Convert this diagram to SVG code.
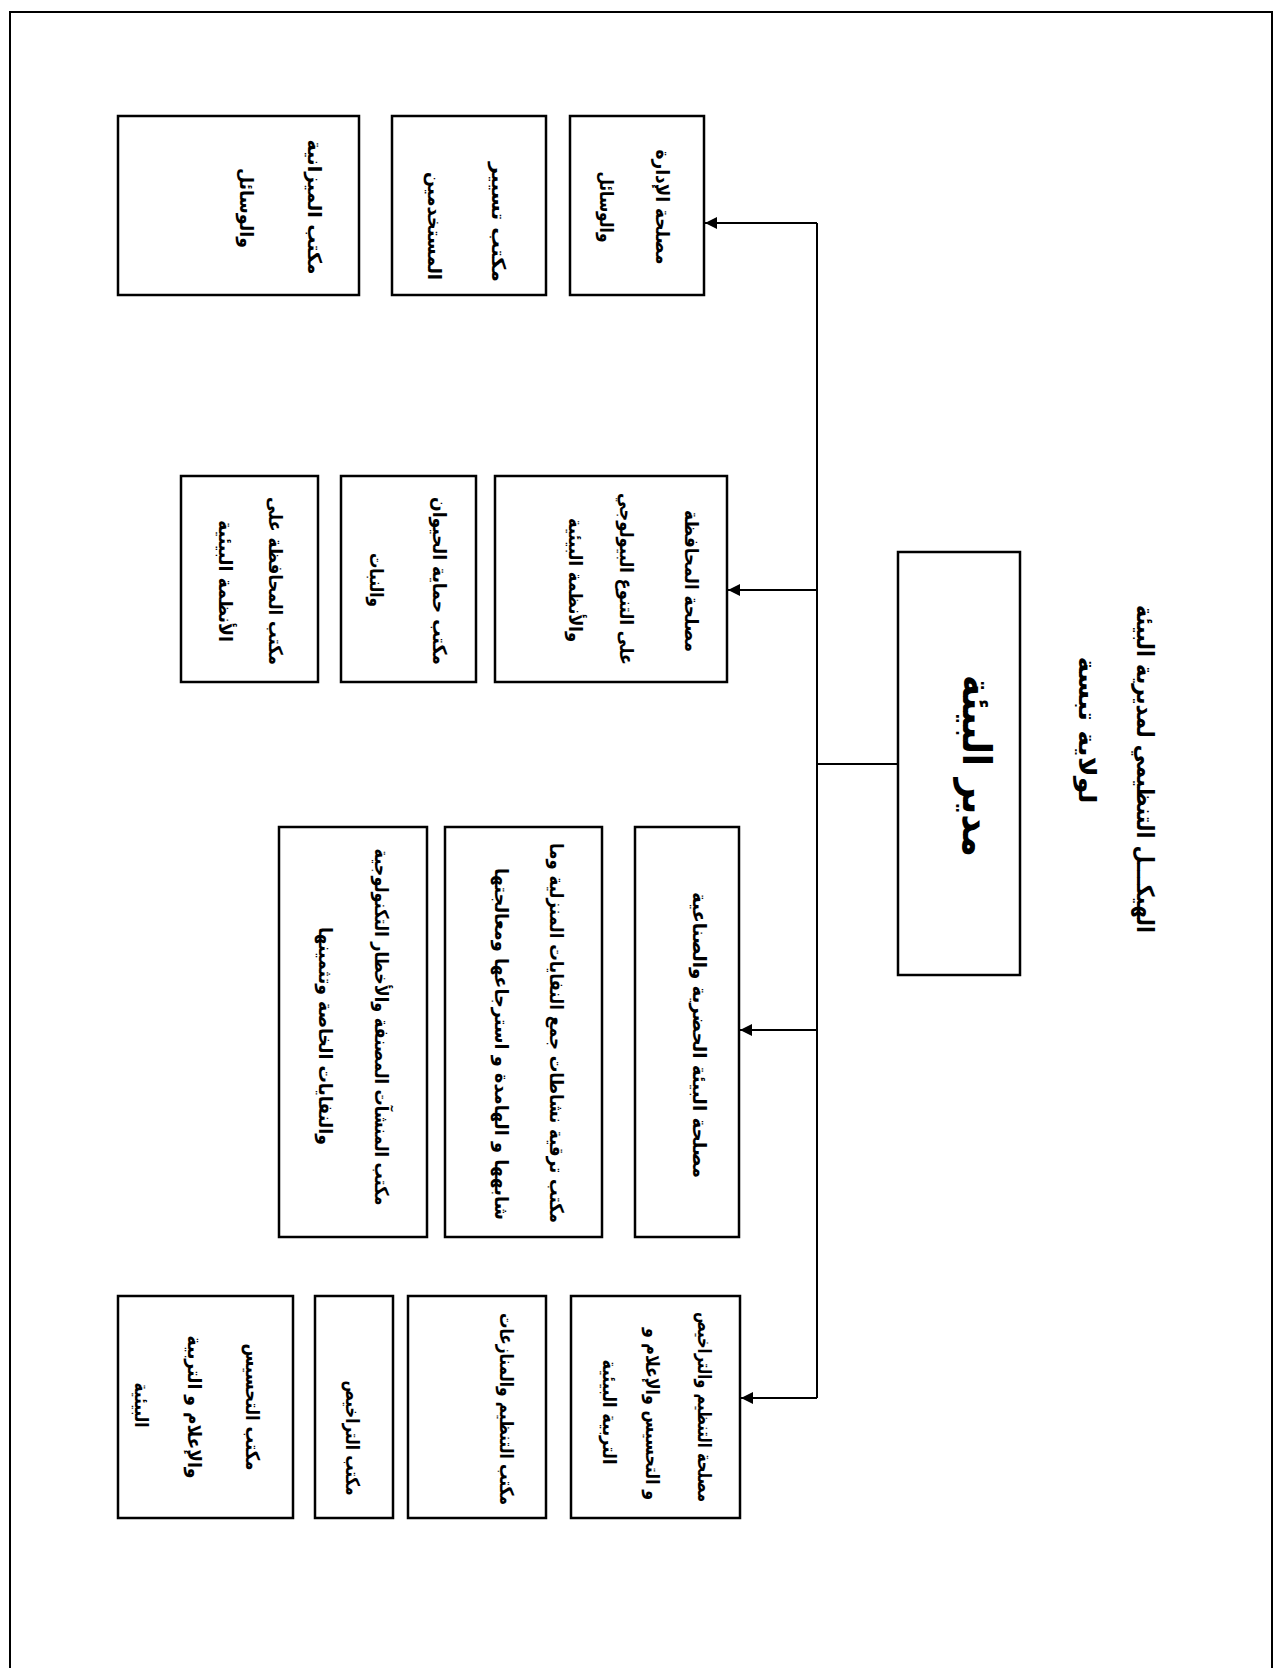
<svg xmlns="http://www.w3.org/2000/svg" width="1283" height="1668" viewBox="0 0 1283 1668">
<style>
.box{fill:#fff;stroke:#000;stroke-width:2.5}
.ln{fill:none;stroke:#000;stroke-width:2}
.t{font-family:"DejaVu Sans",sans-serif;font-weight:bold;font-size:19px;text-anchor:middle;dominant-baseline:central;fill:#000}
.ttl{font-size:24px}
.big{font-size:40px}
</style>
<defs>
<marker id="ah" viewBox="0 0 10 10" refX="10" refY="5" markerWidth="6" markerHeight="6" orient="auto" markerUnits="strokeWidth">
<path d="M0,0 L10,5 L0,10 z" fill="#000"/>
</marker>
</defs>
<rect width="1283" height="1668" fill="#fff"/>
<path class="ln" d="M10,1668 V12 H1272 V1668"/>

<g id="title">
<text class="t ttl" x="1145" y="769" transform="rotate(90 1145 769)" textLength="328" lengthAdjust="spacingAndGlyphs">الهيكـــل التنظيمي لمديرية البيئة</text>
<text class="t ttl" x="1087" y="730" transform="rotate(90 1087 730)" textLength="147" lengthAdjust="spacingAndGlyphs">لولاية تبسة</text>
</g>

<g id="director">
<rect class="box" x="898" y="552" width="122" height="423"/>
<text class="t big" x="977" y="766" transform="rotate(90 977 766)" textLength="182" lengthAdjust="spacingAndGlyphs">مدير البيئة</text>
</g>

<g id="connectors">
<path class="ln" d="M817,223 V1398"/>
<path class="ln" d="M899,764 H817"/>
<path class="ln" d="M817,223 H705" marker-end="url(#ah)"/>
<path class="ln" d="M817,590 H728" marker-end="url(#ah)"/>
<path class="ln" d="M817,1030 H740" marker-end="url(#ah)"/>
<path class="ln" d="M817,1398 H741" marker-end="url(#ah)"/>
</g>

<g id="a1">
<rect class="box" x="570" y="116" width="134" height="179"/>
<text class="t" x="663" y="207" transform="rotate(90 663 207)" textLength="115" lengthAdjust="spacingAndGlyphs">مصلحة الإدارة</text>
<text class="t" x="607" y="207" transform="rotate(90 607 207)" textLength="71" lengthAdjust="spacingAndGlyphs">والوسائل</text>
</g>
<g id="a2">
<rect class="box" x="392" y="116" width="154" height="179"/>
<text class="t" x="499" y="222" transform="rotate(90 499 222)" textLength="120" lengthAdjust="spacingAndGlyphs">مكتب تسيير</text>
<text class="t" x="435" y="226" transform="rotate(90 435 226)" textLength="108" lengthAdjust="spacingAndGlyphs">المستخدمين</text>
</g>
<g id="a3">
<rect class="box" x="118" y="116" width="241" height="179"/>
<text class="t" x="315" y="207" transform="rotate(90 315 207)" textLength="135" lengthAdjust="spacingAndGlyphs">مكتب الميزانية</text>
<text class="t" x="247" y="208" transform="rotate(90 247 208)" textLength="80" lengthAdjust="spacingAndGlyphs">والوسائل</text>
</g>

<g id="b1">
<rect class="box" x="495" y="476" width="232" height="206"/>
<text class="t" x="692" y="581" transform="rotate(90 692 581)" textLength="142" lengthAdjust="spacingAndGlyphs">مصلحة المحافظة</text>
<text class="t" x="627" y="579" transform="rotate(90 627 579)" textLength="172" lengthAdjust="spacingAndGlyphs">على التنوع البيولوجي</text>
<text class="t" x="576" y="580" transform="rotate(90 576 580)" textLength="124" lengthAdjust="spacingAndGlyphs">والأنظمة البيئية</text>
</g>
<g id="b2">
<rect class="box" x="341" y="476" width="135" height="206"/>
<text class="t" x="440" y="581" transform="rotate(90 440 581)" textLength="168" lengthAdjust="spacingAndGlyphs">مكتب حماية الحيوان</text>
<text class="t" x="377" y="580" transform="rotate(90 377 580)" textLength="54" lengthAdjust="spacingAndGlyphs">والنبات</text>
</g>
<g id="b3">
<rect class="box" x="181" y="476" width="137" height="206"/>
<text class="t" x="276" y="581" transform="rotate(90 276 581)" textLength="168" lengthAdjust="spacingAndGlyphs">مكتب المحافظة على</text>
<text class="t" x="226" y="581" transform="rotate(90 226 581)" textLength="122" lengthAdjust="spacingAndGlyphs">الأنظمة البيئية</text>
</g>

<g id="c1">
<rect class="box" x="635" y="827" width="104" height="410"/>
<text class="t" x="700" y="1035" transform="rotate(90 700 1035)" textLength="286" lengthAdjust="spacingAndGlyphs">مصلحة البيئة الحضرية والصناعية</text>
</g>
<g id="c2">
<rect class="box" x="445" y="827" width="157" height="410"/>
<text class="t" x="557" y="1033" transform="rotate(90 557 1033)" textLength="380" lengthAdjust="spacingAndGlyphs">مكتب ترقية نشاطات جمع النفايات المنزلية وما</text>
<text class="t" x="502" y="1044" transform="rotate(90 502 1044)" textLength="352" lengthAdjust="spacingAndGlyphs">شابهها و الهامدة و استرجاعها ومعالجتها</text>
</g>
<g id="c3">
<rect class="box" x="279" y="827" width="148" height="410"/>
<text class="t" x="382" y="1027" transform="rotate(90 382 1027)" textLength="357" lengthAdjust="spacingAndGlyphs">مكتب المنشآت المصنفة والأخطار التكنولوجية</text>
<text class="t" x="326" y="1036" transform="rotate(90 326 1036)" textLength="218" lengthAdjust="spacingAndGlyphs">والنفايات الخاصة وتثمينها</text>
</g>

<g id="d1">
<rect class="box" x="571" y="1296" width="169" height="222"/>
<text class="t" x="705" y="1407" transform="rotate(90 705 1407)" textLength="190" lengthAdjust="spacingAndGlyphs">مصلحة التنظيم والتراخيص</text>
<text class="t" x="653" y="1414" transform="rotate(90 653 1414)" textLength="172" lengthAdjust="spacingAndGlyphs">و التحسيس والإعلام و</text>
<text class="t" x="610" y="1412" transform="rotate(90 610 1412)" textLength="105" lengthAdjust="spacingAndGlyphs">التربية البيئية</text>
</g>
<g id="d2">
<rect class="box" x="408" y="1296" width="138" height="222"/>
<text class="t" x="507" y="1409" transform="rotate(90 507 1409)" textLength="192" lengthAdjust="spacingAndGlyphs">مكتب التنظيم والمنازعات</text>
</g>
<g id="d3">
<rect class="box" x="315" y="1296" width="78" height="222"/>
<text class="t" x="353" y="1438" transform="rotate(90 353 1438)" textLength="115" lengthAdjust="spacingAndGlyphs">مكتب التراخيص</text>
</g>
<g id="d4">
<rect class="box" x="118" y="1296" width="175" height="222"/>
<text class="t" x="253" y="1407" transform="rotate(90 253 1407)" textLength="127" lengthAdjust="spacingAndGlyphs">مكتب التحسيس</text>
<text class="t" x="195" y="1407" transform="rotate(90 195 1407)" textLength="143" lengthAdjust="spacingAndGlyphs">والإعلام و التربية</text>
<text class="t" x="142" y="1405" transform="rotate(90 142 1405)" textLength="45" lengthAdjust="spacingAndGlyphs">البيئية</text>
</g>
</svg>
